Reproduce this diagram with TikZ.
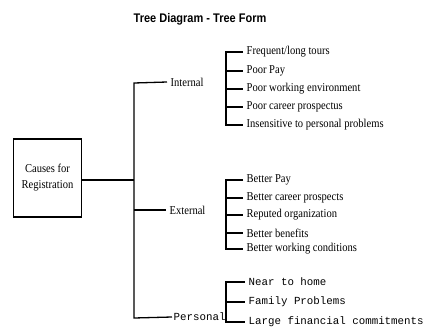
\documentclass[tikz,border=0pt]{standalone}
\usepackage{fontspec}
\setmainfont{Liberation Serif}[FakeStretch=0.88]
\newfontfamily\titlefont{Liberation Sans}[FakeStretch=0.88]
\newfontfamily\monofont{Liberation Mono}
\begin{document}
\begin{tikzpicture}[x=1pt,y=-1pt,
  line width=1.3pt,
  rootbox/.style={draw,line width=1.5pt,minimum width=68pt,minimum height=78pt,
    align=center,inner sep=2pt,font=\fontsize{12}{16}\selectfont},
  catlabel/.style={anchor=west,inner sep=3pt,font=\fontsize{12}{14}\selectfont},
  leaf/.style={anchor=west,inner sep=3pt,font=\fontsize{12}{14}\selectfont},
  monolabel/.style={anchor=west,inner sep=1pt,font=\monofont\fontsize{10.8}{12}\selectfont},
  monoleaf/.style={anchor=west,inner sep=3pt,font=\monofont\fontsize{10.8}{12}\selectfont}]
\useasboundingbox (0,0) rectangle (425,332);

% title
\node[font=\titlefont\bfseries\fontsize{12.5}{14}\selectfont] (title) at (200,19) {Tree Diagram - Tree Form};

% root
\node[rootbox] (root) at (47.5,178) {Causes for\\Registration};

% trunk
\coordinate (tTop) at (134,83);
\coordinate (tBot) at (134,318);
\coordinate (tExt) at (134,210);
\coordinate (tRoot) at (134,180);

% categories
\node[catlabel] (int) at (167,82) {Internal};
\node[catlabel] (ext) at (166,210) {External};
\node[monolabel] (per) at (172,317) {Personal};

\draw (root.east |- tRoot) -- (tRoot);
\draw (int.west) -- (tTop) -- (tBot) -- (per.west);
\draw (tExt) -- (ext.west);

% bracket columns
\coordinate (bx) at (226,0);

% internal causes
\node[leaf] (i1) at (243,52) {Frequent/long tours};
\node[leaf] (i2) at (243,71) {Poor Pay};
\node[leaf] (i3) at (243,89) {Poor working environment};
\node[leaf] (i4) at (243,107) {Poor career prospectus};
\node[leaf] (i5) at (243,125) {Insensitive to personal problems};
\draw (i1.west) -- (bx |- i1.west) -- (bx |- i5.west) -- (i5.west);
\foreach \n in {i2,i3,i4} \draw (bx |- \n.west) -- (\n.west);

% external causes
\node[leaf] (e1) at (243,180) {Better Pay};
\node[leaf] (e2) at (243,198) {Better career prospects};
\node[leaf] (e3) at (243,215) {Reputed organization};
\node[leaf] (e4) at (243,233) {Better benefits};
\node[leaf] (e5) at (243,249) {Better working conditions};
\draw (e1.west) -- (bx |- e1.west) -- (bx |- e5.west) -- (e5.west);
\foreach \n in {e2,e3,e4} \draw (bx |- \n.west) -- (\n.west);

% personal causes
\node[monoleaf] (p1) at (245,282) {Near to home};
\node[monoleaf] (p2) at (245,302) {Family Problems};
\node[monoleaf] (p3) at (245,322) {Large financial commitments};
\draw (p1.west) -- (bx |- p1.west) -- (bx |- p3.west) -- (p3.west);
\draw (bx |- p2.west) -- (p2.west);
\end{tikzpicture}
\end{document}
